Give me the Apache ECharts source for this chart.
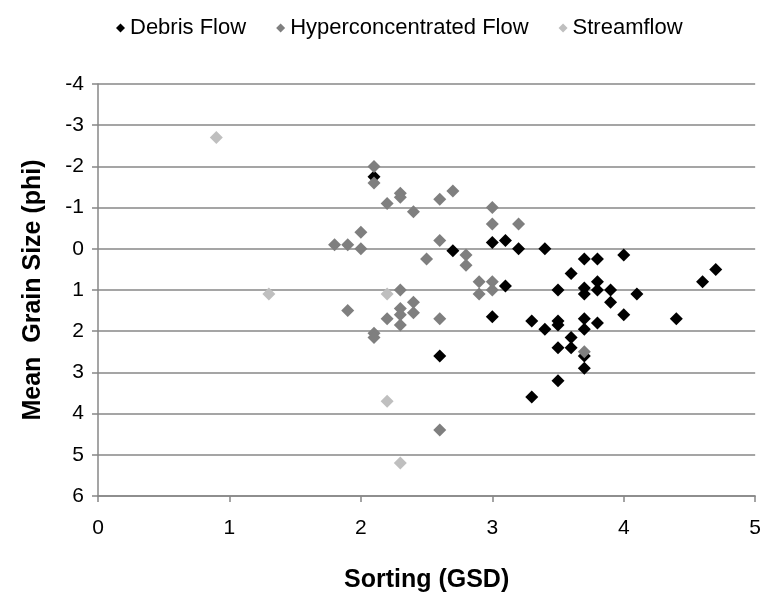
<!DOCTYPE html>
<html>
<head>
<meta charset="utf-8">
<script src="https://cdn.jsdelivr.net/npm/echarts@6/dist/echarts.min.js"></script>
<style>
  html, body { margin: 0; padding: 0; background: #fff; }
  #chart { width: 764px; height: 601px; }
</style>
</head>
<body>
<div id="chart"></div>
<script>
  // [sorting (GSD), mean grain size (phi)]
  var debrisFlow = [
    [2.1, -1.75], [2.7, 0.05], [3.0, -0.15], [3.1, -0.2], [3.2, 0.0], [3.4, 0.0],
    [3.1, 0.9], [3.5, 1.0], [3.6, 0.6], [3.0, 1.65], [3.3, 1.75], [3.5, 1.75],
    [3.5, 1.85], [3.7, 0.25], [3.8, 0.25], [4.0, 0.15], [3.7, 0.95], [3.7, 1.1],
    [3.8, 0.8], [3.8, 1.0], [3.9, 1.0], [3.9, 1.3], [4.1, 1.1], [4.0, 1.6],
    [4.4, 1.7], [3.4, 1.95], [3.7, 1.7], [3.8, 1.8], [3.7, 1.95], [3.6, 2.15],
    [3.5, 2.4], [3.6, 2.4], [3.7, 2.6], [3.7, 2.9], [3.5, 3.2], [4.7, 0.5],
    [4.6, 0.8], [3.3, 3.6], [2.6, 2.6]
  ]
  var hyperFlow = [
    [2.1, -2.0], [2.1, -1.6], [2.2, -1.1], [2.3, -1.35], [2.3, -1.25], [2.4, -0.9],
    [2.6, -1.2], [2.7, -1.4], [2.0, -0.4], [1.8, -0.1], [1.9, -0.1], [2.0, 0.0],
    [2.6, -0.2], [2.5, 0.25], [2.8, 0.15], [2.8, 0.4], [2.9, 0.8], [2.9, 1.1],
    [3.0, 0.8], [3.0, 1.0], [3.0, -1.0], [3.0, -0.6], [3.2, -0.6], [2.3, 1.0],
    [1.9, 1.5], [2.2, 1.7], [2.3, 1.45], [2.3, 1.6], [2.3, 1.85], [2.4, 1.3],
    [2.4, 1.55], [2.6, 1.7], [2.1, 2.05], [2.1, 2.15], [2.6, 4.4], [3.7, 2.5]
  ]
  var streamflow = [
    [0.9, -2.7], [1.3, 1.1], [2.2, 1.1], [2.2, 3.7], [2.3, 5.2]
  ]
  var seriesNames = ['Debris Flow', 'Hyperconcentrated Flow', 'Streamflow']
  var seriesColors = ['#000000', '#7f7f7f', '#bfbfbf']

  var fontFamily = '"Liberation Sans", Arial, sans-serif'
  var gridColor = '#878787'

  var chart = echarts.init(document.getElementById('chart'))
  var option = {
    animation: false,
    textStyle: { fontFamily: fontFamily },
    legend: {
      top: 12,
      left: 111,
      icon: 'diamond',
      itemWidth: 9,
      itemHeight: 9,
      itemGap: 30,
      textStyle: { fontSize: 22, color: '#000', fontFamily: fontFamily },
      data: seriesNames
    },
    grid: { left: 98, right: 7, top: 84, bottom: 105 },
    xAxis: {
      type: 'value',
      min: 0,
      max: 5,
      interval: 1,
      name: 'Sorting (GSD)',
      nameLocation: 'middle',
      nameGap: 72,
      nameTextStyle: { fontSize: 25, fontWeight: 'bold', color: '#000', fontFamily: fontFamily },
      axisLine: { show: true, onZero: false, lineStyle: { color: gridColor, width: 1.5 } },
      axisTick: { show: true, length: 6, lineStyle: { color: gridColor, width: 1.5 } },
      axisLabel: { fontSize: 21, color: '#000', margin: 22, fontFamily: fontFamily },
      splitLine: { show: false }
    },
    yAxis: {
      type: 'value',
      inverse: true,
      min: -4,
      max: 6,
      interval: 1,
      name: 'Mean  Grain Size (phi)',
      nameLocation: 'middle',
      nameGap: 52,
      nameTextStyle: { fontSize: 25, fontWeight: 'bold', color: '#000', fontFamily: fontFamily },
      axisLine: { show: true, onZero: false, lineStyle: { color: gridColor, width: 1.5 } },
      axisTick: { show: true, length: 6, lineStyle: { color: gridColor, width: 1.5 } },
      axisLabel: { fontSize: 21, color: '#000', margin: 14, fontFamily: fontFamily },
      splitLine: { show: true, lineStyle: { color: gridColor, width: 1.5 } }
    },
    series: [
      { name: seriesNames[0], type: 'scatter', symbol: 'diamond', symbolSize: 13, data: debrisFlow, itemStyle: { color: seriesColors[0], opacity: 1 }, z: 3 },
      { name: seriesNames[1], type: 'scatter', symbol: 'diamond', symbolSize: 13, data: hyperFlow, itemStyle: { color: seriesColors[1], opacity: 1 }, z: 4 },
      { name: seriesNames[2], type: 'scatter', symbol: 'diamond', symbolSize: 13, data: streamflow, itemStyle: { color: seriesColors[2], opacity: 1 }, z: 5 }
    ]
  }
  chart.setOption(option)
</script>
</body>
</html>
